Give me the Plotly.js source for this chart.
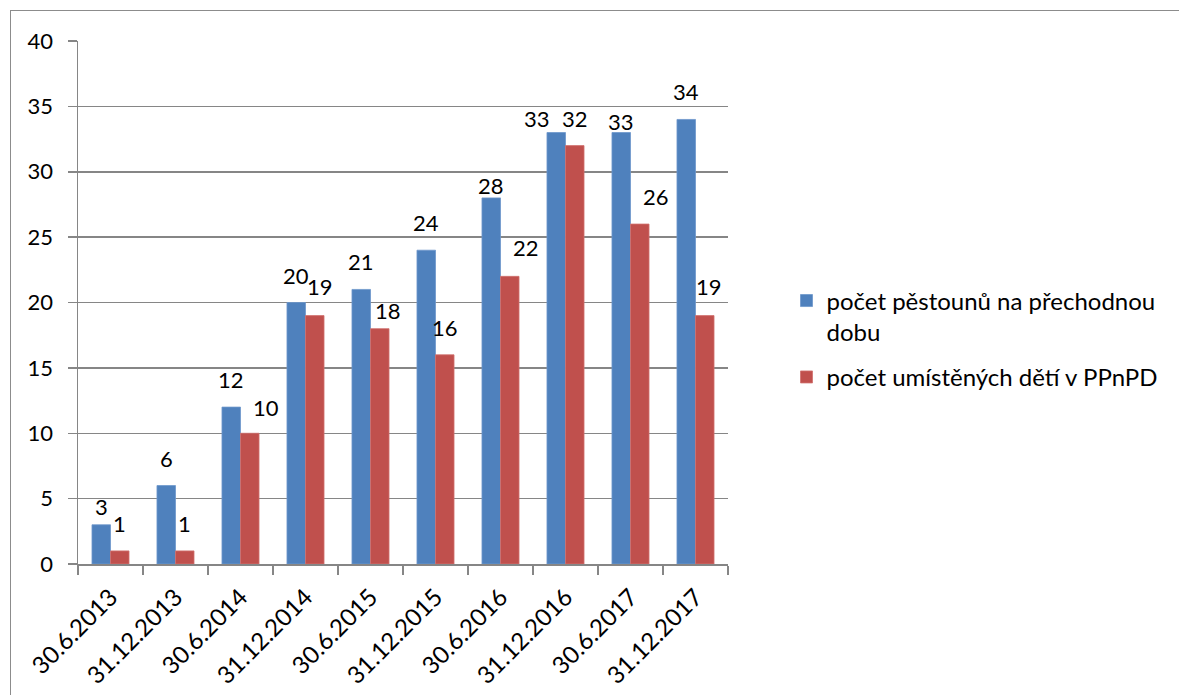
<!DOCTYPE html>
<html>
<head>
<meta charset="utf-8">
<script src="https://cdn.plot.ly/plotly-3.0.1.min.js"></script>
<style>
html,body{margin:0;padding:0;background:#fff;overflow:hidden;}
#frame{position:absolute;left:10px;top:10px;width:1200px;height:720px;border:1.5px solid #8c8c8c;box-sizing:border-box;pointer-events:none;z-index:5;}
#chart{position:absolute;left:0;top:0;width:1179px;height:695px;}
</style>
</head>
<body>
<div id="chart"></div>
<div id="frame"></div>
<script>
const categories = ["30.6.2013","31.12.2013","30.6.2014","31.12.2014","30.6.2015","31.12.2015","30.6.2016","31.12.2016","30.6.2017","31.12.2017"];
const pestouni = [3,6,12,20,21,24,28,33,33,34];
const deti = [1,1,10,19,18,16,22,32,26,19];
const seriesNames = ["počet pěstounů na přechodnou<br>dobu","počet umístěných dětí v PPnPD"];
const yTicks = [0,5,10,15,20,25,30,35,40];

// styling: manual label nudges as in the original (pixels; dx right, dy down)
const labelNudge = {
  "0|0":[0,9], "0|6":[0,15], "0|7":[-19,13], "0|8":[0,16],
  "1|2":[16,2], "1|3":[5,-2], "1|4":[8,9], "1|6":[16,-1], "1|8":[16,0], "1|9":[4,-2]
};

const font = "Lato, 'Open Sans', sans-serif";
const grid = "#868686";
const colors = ["#4F81BD","#C0504D"];
const edges = ["#6d97cc","#d0716e"];

const W = 1179, H = 695;
const margin = {l:78, r:451, t:41, b:131, pad:0};
const bargap = 0.43;

const seriesData = [pestouni, deti];
const traces = seriesData.map((vals, i) => ({
  type:"bar", x:categories, y:vals, name:seriesNames[i], legendgroup:"g"+i,
  marker:{color:colors[i], line:{color:edges[i], width:0.8}},
  hoverinfo:"skip"
}));

// data labels as annotations, offset to each bar in the group
const plotW = W - margin.l - margin.r;
const catW = plotW / categories.length;
const barW = catW * (1 - bargap) / seriesData.length;
const annotations = [];
seriesData.forEach((vals, s) => {
  const off = (s - (seriesData.length - 1) / 2) * barW;
  vals.forEach((v, k) => {
    const n = labelNudge[s + "|" + k] || [0, 0];
    annotations.push({
      x: categories[k], y: v, xref:"x", yref:"y", text:String(v), showarrow:false,
      xanchor:"center", yanchor:"bottom", xshift: off + n[0], yshift: 12 - n[1],
      font:{family:font, size:22, color:"#000"}
    });
  });
});

const layout = {
  width:W, height:H,
  margin:margin,
  paper_bgcolor:"#fff", plot_bgcolor:"#fff",
  font:{family:font, size:22, color:"#000"},
  barmode:"group", bargap:bargap, bargroupgap:0,
  showlegend:true,
  legend:{x:1.09, xanchor:"left", y:0.546, yanchor:"top", valign:"top",
          tracegroupgap:11, traceorder:"grouped", font:{family:font, size:24, color:"#000"},
          bgcolor:"rgba(0,0,0,0)"},
  annotations:annotations,
  xaxis:{type:"category", showgrid:false, showline:true, linecolor:grid, linewidth:1.5,
         ticks:"outside", ticklen:9, tickwidth:1.5, tickcolor:grid, tickson:"boundaries",
         tickangle:-45, ticklabelstandoff:8, tickfont:{family:font, size:24, color:"#000"}, fixedrange:true},
  yaxis:{range:[0,40], tickvals:yTicks, ticktext:yTicks.map(String), showgrid:true, gridcolor:grid, gridwidth:1.5,
         showline:true, linecolor:grid, linewidth:1.5, zeroline:false,
         ticks:"outside", ticklen:9, tickwidth:1.5, tickcolor:grid, ticklabelstandoff:10,
         tickfont:{family:font, size:22, color:"#000"}, fixedrange:true}
};

Plotly.newPlot("chart", traces, layout, {displayModeBar:false, staticPlot:true});
</script>
</body>
</html>
